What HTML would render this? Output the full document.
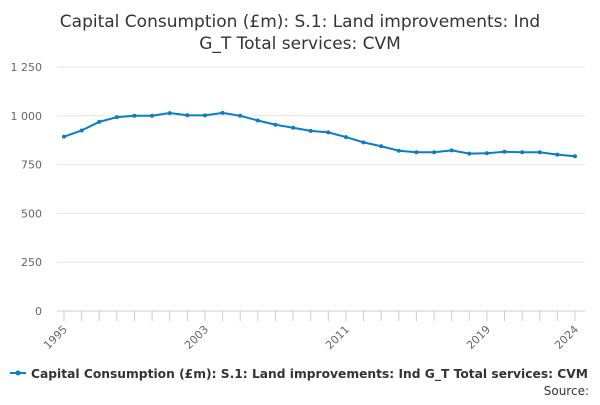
<!DOCTYPE html>
<html><head><meta charset="utf-8"><style>
body{margin:0;background:#fff;font-family:"Liberation Sans","DejaVu Sans",sans-serif}
svg text{font-family:"DejaVu Sans","Liberation Sans",sans-serif}
</style></head><body>
<svg id="c" width="600" height="400">
<text x="300" y="27" text-anchor="middle" font-size="17" fill="#333">Capital Consumption (£m): S.1: Land improvements: Ind</text>
<text x="300" y="49" text-anchor="middle" font-size="17" fill="#333">G_T Total services: CVM</text>
<g id="grid"></g><g id="xax"></g><g id="series"></g>
<g>
<line x1="10" y1="373" x2="26" y2="373" stroke="#0b7dc4" stroke-width="2"/>
<circle cx="18" cy="373" r="2.5" fill="#0b7dc4"/>
<text x="31" y="378" font-size="12.2" font-weight="bold" fill="#333" textLength="557" lengthAdjust="spacingAndGlyphs">Capital Consumption (£m): S.1: Land improvements: Ind G_T Total services: CVM</text>
</g>
<text x="589" y="395" text-anchor="end" font-size="12" fill="#333">Source:</text>
</svg>
<script>
const years=[1995,1996,1997,1998,1999,2000,2001,2002,2003,2004,2005,2006,2007,2008,2009,2010,2011,2012,2013,2014,2015,2016,2017,2018,2019,2020,2021,2022,2023,2024];
const values=[893,925,969,993,1000,1000,1014,1003,1002,1015,1000,976,954,939,923,915,891,864,844,821,813,813,823,806,808,816,813,813,801,793];
const yTicks=[0,250,500,750,1000,1250];
const yTickLabels=["0","250","500","750","1 000","1 250"];
const xTickLabels=[1995,2003,2011,2019,2024];
const NS="http://www.w3.org/2000/svg";
const x=v=>64+(v-1995)*(575-64)/29;
const y=v=>311-v*(311-67)/1250;
const grid=document.getElementById('grid'),xax=document.getElementById('xax'),ser=document.getElementById('series');
function mk(t,a,p){const e=document.createElementNS(NS,t);for(const k in a)e.setAttribute(k,a[k]);p.appendChild(e);return e;}
yTicks.forEach((t,i)=>{
 const l=mk('line',{x1:57,x2:585,y1:y(t),y2:y(t),stroke:t===0?'#ccc':'#e6e6e6'},grid);
 
 
 const tx=mk('text',{x:42,y:y(t)+4,'text-anchor':'end','font-size':11,fill:'#666'},grid);
 tx.textContent=yTickLabels[i];
 
 
});
years.forEach(yr=>{
 const l=mk('line',{x1:x(yr),x2:x(yr),y1:311,y2:321,stroke:'#ccc'},xax);
 
 
});
xTickLabels.forEach(yr=>{
 const tx=mk('text',{x:x(yr)+4,y:330,'text-anchor':'end','font-size':11,fill:'#666',transform:`rotate(-45 ${x(yr)+4} 330)`},xax);
 tx.textContent=yr;
 
 
});
const p=mk('polyline',{points:years.map((yr,i)=>x(yr)+','+y(values[i])).join(' '),fill:'none',stroke:'#0b7dc4','stroke-width':2},ser);


years.forEach((yr,i)=>{
 const c=mk('circle',{cx:x(yr),cy:y(values[i]),r:2,fill:'#0b7dc4'},ser);
 
 
});
</script>
</body></html>
